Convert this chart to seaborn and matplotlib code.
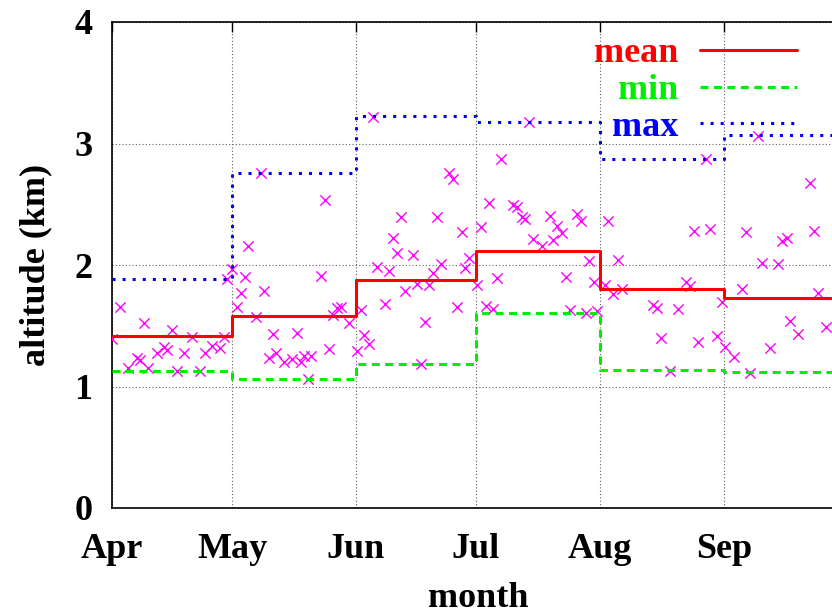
import numpy as np
import pandas as pd
import seaborn as sns
import matplotlib.pyplot as plt

# month starts, counted in days since 1 Apr
month_days = [0, 30, 61, 91, 122, 153, 183]
month_names = ["Apr", "May", "Jun", "Jul", "Aug", "Sep"]

# monthly statistics (km)
mean_alt = [1.415, 1.577, 1.877, 2.112, 1.800, 1.728]
min_alt = [1.130, 1.059, 1.183, 1.602, 1.136, 1.117]
max_alt = [1.885, 2.755, 3.226, 3.177, 2.870, 3.068]

# individual observations: day since 1 Apr, altitude (km)
obs_day = [
    37.2, 53.2, 34.1, 30.1, 28.8, 33.2, 52.2, 2.0, 32.2, 38.1,
    31.2, 8.0, 36.1, 55.2, 56.3, 57.2, 59.2, 0.0, 15.0, 20.1,
    28.0, 40.2, 46.2, 54.2, 61.2, 25.1, 27.0, 23.2, 13.0, 13.8,
    11.2, 18.0, 6.2, 7.0, 4.0, 9.0, 16.2, 22.0, 39.2, 40.9,
    43.0, 45.1, 47.2, 48.0, 49.8, 49.1,
    65.2, 104.2, 97.3, 84.3, 85.3, 94.3, 100.3, 101.3, 72.2, 81.2,
    102.4, 103.3, 109.4, 116.3, 117.3, 111.3, 112.4, 124.1, 92.3, 87.4,
    70.2, 105.3, 107.4, 110.3, 71.3, 75.2, 89.3, 119.3, 66.2, 69.2,
    82.2, 88.2, 80.3, 96.3, 113.4, 120.4, 76.3, 79.3, 73.2, 91.3,
    68.2, 86.3, 62.2, 93.4, 95.3, 114.4, 118.4, 121.3, 78.2, 63.0,
    64.2, 77.2,
    161.6, 148.4, 174.5, 145.5, 149.5, 158.5, 167.6, 168.7, 175.5, 126.5,
    162.4, 166.6, 123.3, 125.3, 127.4, 143.6, 144.5, 157.5, 176.6, 152.4,
    135.3, 136.3, 141.5, 169.5, 171.5, 178.6, 137.3, 146.5, 151.3, 153.3,
    155.5, 164.5, 139.4, 159.5,
]
obs_alt = [
    2.755, 2.535, 2.159, 1.967, 1.885, 1.904, 1.912, 1.657, 1.772, 1.786,
    1.657, 1.520, 1.572, 1.588, 1.644, 1.652, 1.525, 1.391, 1.465, 1.407,
    1.410, 1.430, 1.438, 1.306, 1.295, 1.333, 1.314, 1.278, 1.325, 1.300,
    1.278, 1.273, 1.237, 1.218, 1.150, 1.155, 1.130, 1.130, 1.237, 1.273,
    1.204, 1.224, 1.199, 1.253, 1.251, 1.059,
    3.221, 3.177, 2.872, 2.755, 2.705, 2.513, 2.491, 2.480, 2.398, 2.398,
    2.398, 2.379, 2.403, 2.420, 2.362, 2.321, 2.261, 2.365, 2.310, 2.272,
    2.225, 2.216, 2.159, 2.206, 2.101, 2.082, 2.060, 2.035, 1.986, 1.951,
    2.006, 1.978, 1.932, 1.891, 1.901, 1.860, 1.844, 1.833, 1.786, 1.833,
    1.681, 1.657, 1.630, 1.663, 1.635, 1.630, 1.602, 1.624, 1.533, 1.424,
    1.347, 1.183,
    3.064, 2.870, 2.677, 2.282, 2.296, 2.274, 2.198, 2.225, 2.282, 2.041,
    2.019, 2.008, 1.835, 1.759, 1.802, 1.863, 1.830, 1.802, 1.767, 1.698,
    1.671, 1.649, 1.635, 1.542, 1.430, 1.492, 1.402, 1.366, 1.416, 1.328,
    1.245, 1.314, 1.130, 1.114,
]

obs = pd.DataFrame({"day": obs_day, "alt": obs_alt})
steps = pd.DataFrame({
    "day": month_days,
    "mean": mean_alt + mean_alt[-1:],
    "min": min_alt + min_alt[-1:],
    "max": max_alt + max_alt[-1:],
})

sns.set_style("white")
plt.rcParams["font.family"] = ["Liberation Serif", "DejaVu Serif"]
plt.rcParams["font.weight"] = "bold"
plt.rcParams["text.color"] = "black"
plt.rcParams["axes.labelcolor"] = "black"
plt.rcParams["xtick.color"] = "black"
plt.rcParams["ytick.color"] = "black"

fig = plt.figure(figsize=(8.32, 6.15), dpi=100)
# axes run slightly past the right edge (picture is cropped there)
ax = fig.add_axes([112 / 832, 107 / 615, 732 / 832, 486 / 615])

sns.scatterplot(data=obs, x="day", y="alt", marker="x", color="#ff00ff",
                s=55, linewidth=1.0, ax=ax, zorder=3, legend=False)

sns.lineplot(data=steps, x="day", y="mean", color="#ff0000", lw=2.2,
             drawstyle="steps-post", estimator=None, ax=ax, label="mean", zorder=4)
sns.lineplot(data=steps, x="day", y="min", color="#00ee00", lw=2.2,
             linestyle=(0, (2.6, 1.8)), drawstyle="steps-post", estimator=None,
             ax=ax, label="min", zorder=4)
sns.lineplot(data=steps, x="day", y="max", color="#0000ff", lw=2.2,
             linestyle=(0, (1, 2.3)), drawstyle="steps-post", estimator=None,
             ax=ax, label="max", zorder=4)

ax.set_xlim(0, 183)
ax.set_ylim(0, 4)
ax.set_xticks(month_days[:-1])
ax.set_xticklabels(month_names)
ax.set_yticks([0, 1, 2, 3, 4])

ax.grid(True, color="#606060", linestyle=(0, (1, 2)), linewidth=0.8)
ax.tick_params(direction="in", length=7, width=1.0, top=True, right=True,
               labelsize=26, pad=14)
ax.tick_params(axis="x", pad=18)
for sp in ax.spines.values():
    sp.set_linewidth(1.2)
    sp.set_color("black")

ax.set_xlabel("month", fontsize=26, fontweight="bold")
ax.set_ylabel("altitude (km)", fontsize=26, fontweight="bold")
ax.xaxis.set_label_coords(0.5, -0.152)
ax.yaxis.set_label_coords(-0.082, 0.5)

leg = ax.legend(loc="upper right", bbox_to_anchor=(0.936, 0.969),
                frameon=False, markerfirst=False, fontsize=26, labelcolor="linecolor",
                handlelength=2.7, handletextpad=0.6, labelspacing=0.1,
                borderaxespad=0.0, borderpad=0.0)
for t in leg.get_texts():
    t.set_fontweight("bold")

fig.savefig("out.png", dpi=100)
